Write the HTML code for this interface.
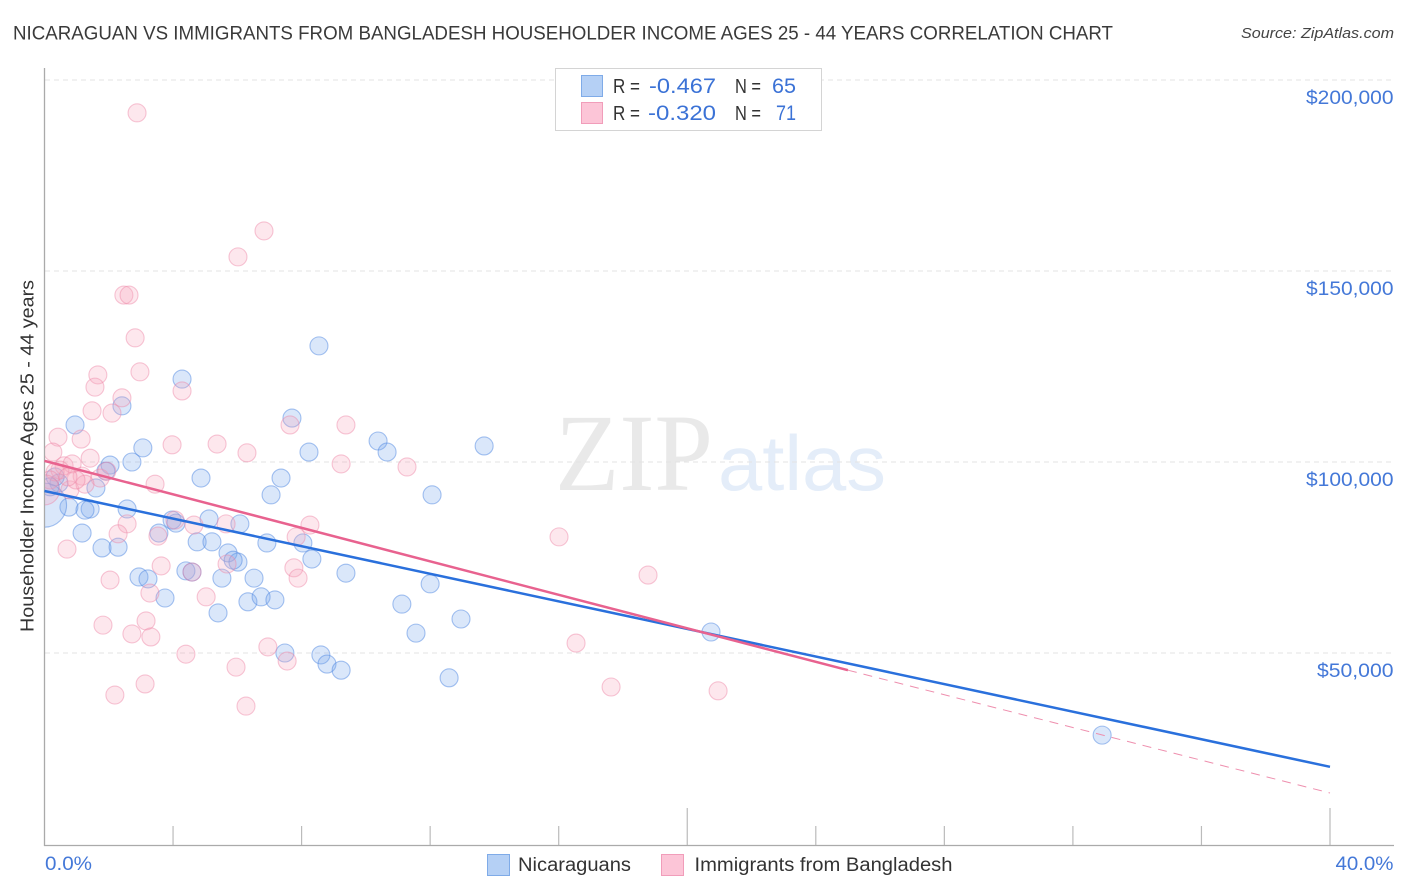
<!DOCTYPE html>
<html>
<head>
<meta charset="utf-8">
<title>Nicaraguan vs Immigrants from Bangladesh Householder Income Correlation Chart</title>
<style>
html,body{margin:0;padding:0;background:#fff;width:1406px;height:892px;overflow:hidden}
svg{display:block}
text{font-family:"Liberation Sans",sans-serif}
</style>
</head>
<body>
<svg id="chart" xmlns="http://www.w3.org/2000/svg" width="1406" height="892" viewBox="0 0 1406 892">
  <defs>
    <clipPath id="plot-clip"><rect x="45" y="60" width="1360" height="785"/></clipPath>
  </defs>
  <rect x="0" y="0" width="1406" height="892" fill="#ffffff"/>
  <text x="13" y="39.500" font-size="19.500" fill="#3a3a3a" textLength="1100" lengthAdjust="spacingAndGlyphs">NICARAGUAN VS IMMIGRANTS FROM BANGLADESH HOUSEHOLDER INCOME AGES 25 - 44 YEARS CORRELATION CHART</text>
  <text x="1394" y="38" font-size="15" font-style="italic" fill="#444" text-anchor="end" textLength="153" lengthAdjust="spacingAndGlyphs">Source: ZipAtlas.com</text>

  <g>
    <text x="555" y="490" font-size="110" fill="#e9e9e9" textLength="158" lengthAdjust="spacingAndGlyphs" style="font-family:'Liberation Serif',serif">ZIP</text>
    <text x="718" y="490" font-size="78" fill="#e4edf9" textLength="168" lengthAdjust="spacingAndGlyphs">atlas</text>
  </g>

  <g id="grid"></g>
  <g id="ticks"></g>
  <line x1="44.500" y1="68" x2="44.500" y2="846" stroke="#aaa" stroke-width="1.300"/>
  <line x1="44" y1="845.500" x2="1394" y2="845.500" stroke="#aaa" stroke-width="1.300"/>

  <g id="points" clip-path="url(#plot-clip)"></g>
  <g id="trends"></g>
  <g id="labels"></g>

  <text transform="translate(33.500,632) rotate(-90)" x="0" y="0" font-size="18" fill="#333" textLength="352" lengthAdjust="spacingAndGlyphs">Householder Income Ages 25 - 44 years</text>

  <g>
    <rect x="555.500" y="68.500" width="266" height="62" fill="#fff" stroke="#d4d4d4" stroke-width="1"/>
    <rect x="581.500" y="75.500" width="21" height="21" fill="#b5d0f5" stroke="#7fabe8"/>
    <rect x="581.500" y="102.500" width="21" height="21" fill="#fcc5d7" stroke="#f19dba"/>
    <text x="613" y="93" font-size="20" fill="#333" textLength="27" lengthAdjust="spacingAndGlyphs">R =</text>
    <text x="649" y="93" font-size="21" fill="#3b72d6" textLength="67" lengthAdjust="spacingAndGlyphs">-0.467</text>
    <text x="735" y="93" font-size="20" fill="#333" textLength="26" lengthAdjust="spacingAndGlyphs">N =</text>
    <text x="772" y="93" font-size="21" fill="#3b72d6" textLength="24" lengthAdjust="spacingAndGlyphs">65</text>
    <text x="613" y="120" font-size="20" fill="#333" textLength="27" lengthAdjust="spacingAndGlyphs">R =</text>
    <text x="648" y="120" font-size="21" fill="#3b72d6" textLength="68" lengthAdjust="spacingAndGlyphs">-0.320</text>
    <text x="735" y="120" font-size="20" fill="#333" textLength="26" lengthAdjust="spacingAndGlyphs">N =</text>
    <text x="776" y="120" font-size="21" fill="#3b72d6" textLength="20" lengthAdjust="spacingAndGlyphs">71</text>
  </g>

  <g>
    <rect x="487.500" y="854.500" width="22" height="21" fill="#b5d0f5" stroke="#7fabe8"/>
    <text x="518" y="871" font-size="19" fill="#333" textLength="113" lengthAdjust="spacingAndGlyphs">Nicaraguans</text>
    <rect x="661.500" y="854.500" width="22" height="21" fill="#fcc5d7" stroke="#f19dba"/>
    <text x="694.500" y="871" font-size="19" fill="#333" textLength="258" lengthAdjust="spacingAndGlyphs">Immigrants from Bangladesh</text>
  </g>
</svg>

<script>
const yTickValues = [50000, 100000, 150000, 200000];
const yTickLabels = ["$50,000", "$100,000", "$150,000", "$200,000"];
const xTickValues = [0, 4, 8, 12, 16, 20, 24, 28, 32, 36, 40];
const xMajorTicks = [20, 40];
const xEdgeLabels = ["0.0%", "40.0%"];

const blueX = [0.95,2.41,4.28,8.54,7.70,3.06,10.38,10.66,13.68,8.23,2.04,1.91,2.72,4.87,7.36,7.05,12.06,2.57,1.60,0.45,0.33,0.17,0.76,1.42,1.26,1.17,1.79,2.29,5.12,3.97,4.09,3.56,6.08,4.75,5.21,6.92,8.04,5.71,6.02,5.87,8.32,9.38,2.94,3.22,4.40,4.59,5.52,6.52,12.00,3.75,5.40,6.33,6.74,7.17,11.12,12.96,11.56,7.48,8.60,8.79,9.23,12.59,20.74,32.91,0.00];
const blueY = [109700,114700,121700,130400,111500,103700,105500,102600,104200,102600,99200,97600,100000,95800,95800,91400,91400,87700,93200,94500,96100,93500,88200,87700,87400,81400,77500,77700,85100,84800,84000,81400,83800,79100,79100,78800,78800,76200,73800,74300,74600,70900,69900,69400,71500,71200,69600,69600,68100,64400,60500,63400,64700,63900,62800,58900,55200,50000,49500,47100,45500,43500,55500,28500,88700];
const blueWeight = [1,1,1,1,1,1,1,1,1,1,1,1,1,1,1,1,1,1,1,1,1,1,1,1,1,1,1,1,1,1,1,1,1,1,1,1,1,1,1,1,1,1,1,1,1,1,1,1,1,1,1,1,1,1,1,1,1,1,1,1,1,1,1,1,6];

const pinkX = [2.88,6.83,6.02,2.47,2.63,2.82,2.97,1.66,1.57,2.41,4.28,1.48,2.10,7.64,9.38,0.42,1.14,3.97,5.37,6.30,0.26,9.23,11.28,1.42,0.61,0.86,0.48,0.33,1.17,1.73,3.44,0.79,1.26,1.94,0.98,0.73,2.57,4.06,4.65,5.65,8.26,2.29,3.53,7.83,0.70,16.01,3.63,7.76,2.04,7.89,5.68,4.59,18.78,3.28,5.03,1.82,3.16,2.72,3.31,16.54,6.95,4.40,7.55,5.96,3.13,2.19,17.63,20.96,6.27,0.17,0.00];
const pinkY = [191400,160500,153700,143700,143700,132500,123600,122800,119600,116800,118600,113400,112800,109700,109700,106500,106000,104500,104700,102400,102600,99500,98700,101000,99000,99500,97900,97400,96300,95800,94200,92700,94200,97600,95300,96100,83800,84800,83500,83800,83500,81200,80600,80400,77200,80400,72800,72300,69100,69600,73300,71200,70400,65700,64700,57300,58400,55000,54200,52600,51600,49700,47900,46300,41900,39000,41100,40100,36100,95300,92700];
const pinkWeight = [1,1,1,1,1,1,1,1,1,1,1,1,1,1,1,1,1,1,1,1,1,1,1,1,1,1,1,1,1,1,1,1,1,1,1,1,1,1,1,1,1,1,1,1,1,1,1,1,1,1,1,1,1,1,1,1,1,1,1,1,1,1,1,1,1,1,1,1,1,1,2.8];

const blueTrendX = [0, 40];
const blueTrendY = [92400, 20200];
const pinkTrendX = [0, 25];
const pinkTrendY = [100300, 45500];
const pinkDashX = [25, 40];
const pinkDashY = [45500, 13350];

const NS = "http://www.w3.org/2000/svg";
function xScale(v) { return 44.5 + v * (1285.5 / 40); }
function yScale(v) { return 653 - (v - 50000) * (191 / 50000); }
function mk(tag, attrs, parent) {
  const el = document.createElementNS(NS, tag);
  for (const k in attrs) el.setAttribute(k, attrs[k]);
  parent.appendChild(el);
  return el;
}

const grid = document.getElementById("grid");
const labels = document.getElementById("labels");
const ticks = document.getElementById("ticks");
const points = document.getElementById("points");
const trends = document.getElementById("trends");

yTickValues.forEach(function (v, i) {
  const line = mk("line", {x1: 45, x2: 1394, y1: yScale(v), y2: yScale(v), stroke: "#e3e3e3", "stroke-width": 1, "stroke-dasharray": "5 4"}, grid);
  
  
  const t = mk("text", {x: 1393.5, y: yScale(v) + 24, "font-size": 19, fill: "#4478d8", "text-anchor": "end", textLength: yTickLabels[i].length * 11 - 0.5, lengthAdjust: "spacingAndGlyphs"}, labels);
  t.textContent = yTickLabels[i];
  
  
});

xTickValues.forEach(function (v) {
  if (v === 0) return;
  const top = xMajorTicks.indexOf(v) >= 0 ? 808 : 826;
  const tick = mk("line", {x1: xScale(v), x2: xScale(v), y1: top, y2: 845, stroke: "#bbb", "stroke-width": 1.2}, ticks);
  
  
});

const xLabelLeft = mk("text", {x: 45, y: 870, "font-size": 19, fill: "#4478d8", textLength: 47, lengthAdjust: "spacingAndGlyphs"}, labels);
xLabelLeft.textContent = xEdgeLabels[0];


const xLabelRight = mk("text", {x: 1393.5, y: 870, "font-size": 19, fill: "#4478d8", "text-anchor": "end", textLength: 58, lengthAdjust: "spacingAndGlyphs"}, labels);
xLabelRight.textContent = xEdgeLabels[1];



blueX.forEach(function (v, i) {
  const c = mk("circle", {cx: xScale(v), cy: yScale(blueY[i]), r: 9 * Math.sqrt(blueWeight[i]), fill: "rgba(120,165,235,0.27)", stroke: "rgba(80,135,225,0.5)", "stroke-width": 1.1}, points);
  
  
});
pinkX.forEach(function (v, i) {
  const c = mk("circle", {cx: xScale(v), cy: yScale(pinkY[i]), r: 9 * Math.sqrt(pinkWeight[i]), fill: "rgba(248,165,190,0.27)", stroke: "rgba(238,130,165,0.45)", "stroke-width": 1.1}, points);
  
  
});

const blueTrend = mk("line", {x1: xScale(blueTrendX[0]), y1: yScale(blueTrendY[0]), x2: xScale(blueTrendX[1]), y2: yScale(blueTrendY[1]), stroke: "#2a70dc", "stroke-width": 2.5}, trends);


const pinkDash = mk("line", {x1: xScale(pinkDashX[0]), y1: yScale(pinkDashY[0]), x2: xScale(pinkDashX[1]), y2: yScale(pinkDashY[1]), stroke: "#ee8fae", "stroke-width": 1, "stroke-dasharray": "9 7"}, trends);


const pinkTrend = mk("line", {x1: xScale(pinkTrendX[0]), y1: yScale(pinkTrendY[0]), x2: xScale(pinkTrendX[1]), y2: yScale(pinkTrendY[1]), stroke: "#e8628f", "stroke-width": 2.5}, trends);


</script>
</body>
</html>
